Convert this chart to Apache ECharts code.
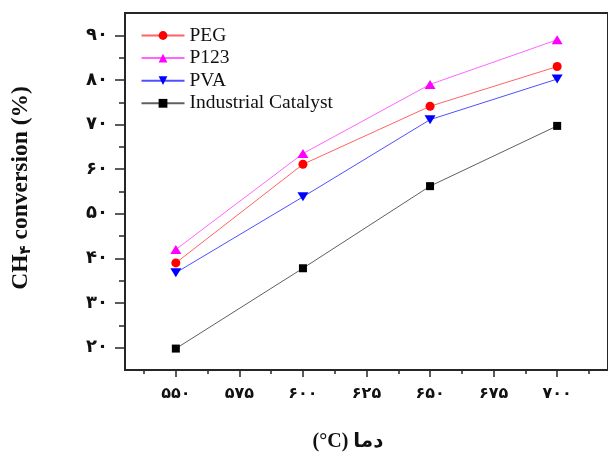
<!DOCTYPE html>
<html>
<head>
<meta charset="utf-8">
<script src="https://cdn.jsdelivr.net/npm/echarts@6/dist/echarts.min.js"></script>
<style>
  html, body { margin: 0; padding: 0; background: #fff; }
  #chart { width: 608px; height: 452px; }
</style>
</head>
<body>
<div id="chart"></div>
<script>
// Reaction temperatures (°C)
const temperatures = [550, 600, 650, 700];

// CH4 conversion (%) for each catalyst
const pegValues = [39.0, 61.1, 74.1, 83.0];
const p123Values = [42.0, 63.5, 79.0, 89.0];
const pvaValues = [36.8, 53.8, 71.1, 80.2];
const industrialValues = [19.8, 37.8, 56.2, 69.7];

const seriesNames = ['PEG', 'P123', 'PVA', 'Industrial Catalyst'];

// Axis ticks and their labels in Persian digits
const xTickValues = [550, 575, 600, 625, 650, 675, 700];
const xTickLabels = ['۵۵۰', '۵۷۵', '۶۰۰', '۶۲۵', '۶۵۰', '۶۷۵', '۷۰۰'];
const xMinorTicks = [537.5, 562.5, 587.5, 612.5, 637.5, 662.5, 687.5, 712.5];
const yTickValues = [20, 30, 40, 50, 60, 70, 80, 90];
const yTickLabels = ['۲۰', '۳۰', '۴۰', '۵۰', '۶۰', '۷۰', '۸۰', '۹۰'];
const yMinorTicks = [25, 35, 45, 55, 65, 75, 85];

const xTitle = '(°C) دما';
const yTitleParts = ['CH', '۴', ' conversion (%)'];

const AXIS = '#262626';
const LABEL_FONT = 'Liberation Serif, DejaVu Sans, serif';

function pairs(values) {
  return temperatures.map((t, i) => [t, values[i]]);
}

function lineSeries(name, values, lineColor, markColor, symbol, size, rotate) {
  return {
    name: name,
    type: 'line',
    data: pairs(values),
    symbol: symbol,
    symbolSize: size,
    symbolRotate: rotate || 0,
    showAllSymbol: true,
    lineStyle: { color: lineColor, width: 1 },
    itemStyle: { color: markColor },
    emphasis: { disabled: true },
    animation: false,
    z: 3
  };
}

const chart = echarts.init(document.getElementById('chart'), null, { renderer: 'canvas' });

const xLabelMap = {};
xTickValues.forEach((v, i) => { xLabelMap[v] = xTickLabels[i]; });
const yLabelMap = {};
yTickValues.forEach((v, i) => { yLabelMap[v] = yTickLabels[i]; });

chart.setOption({
  animation: false,
  backgroundColor: '#ffffff',
  grid: {
    left: 125, top: 13, bottom: 82, right: -3.4,
    show: true, borderColor: AXIS, borderWidth: 2, backgroundColor: 'transparent'
  },
  legend: {
    orient: 'vertical',
    left: 135.5, top: 20.5,
    itemWidth: 43, itemHeight: 11, itemGap: 2.6,
    data: seriesNames,
    textStyle: { fontFamily: LABEL_FONT, fontSize: 19.5, color: '#111', lineHeight: 16 },
    selectedMode: false
  },
  xAxis: [
    {
      type: 'value', min: 530, max: 720,
      axisLine: { show: true, lineStyle: { color: AXIS, width: 2 } },
      axisTick: { show: true, customValues: xTickValues, length: 7, lineStyle: { color: AXIS, width: 1.5 } },
      axisLabel: {
        customValues: xTickValues,
        formatter: v => xLabelMap[v] || '',
        margin: 16, fontSize: 16, fontWeight: 'bold', color: '#111', fontFamily: LABEL_FONT
      },
      splitLine: { show: false }
    },
    {
      type: 'value', min: 530, max: 720, position: 'bottom',
      axisLine: { show: false },
      axisTick: { show: true, customValues: xMinorTicks, length: 4, lineStyle: { color: AXIS, width: 1.5 } },
      axisLabel: { show: false },
      splitLine: { show: false }
    }
  ],
  yAxis: [
    {
      type: 'value', min: 15, max: 95,
      axisLine: { show: true, lineStyle: { color: AXIS, width: 2 } },
      axisTick: { show: true, customValues: yTickValues, length: 10, lineStyle: { color: AXIS, width: 1.5 } },
      axisLabel: {
        customValues: yTickValues,
        formatter: v => yLabelMap[v] || '',
        margin: 17, fontSize: 18, fontWeight: 'bold', color: '#111', fontFamily: LABEL_FONT
      },
      splitLine: { show: false }
    },
    {
      type: 'value', min: 15, max: 95, position: 'left',
      axisLine: { show: false },
      axisTick: { show: true, customValues: yMinorTicks, length: 6, lineStyle: { color: AXIS, width: 1.5 } },
      axisLabel: { show: false },
      splitLine: { show: false }
    }
  ],
  graphic: [
    {
      type: 'text',
      x: 21, y: 188,
      rotation: Math.PI / 2,
      style: {
        text: '{a|' + yTitleParts[0] + '}{s|' + yTitleParts[1] + '}{a|' + yTitleParts[2] + '}',
        align: 'center', verticalAlign: 'middle',
        rich: {
          a: { fontFamily: LABEL_FONT, fontSize: 23.5, fontWeight: 'bold', fill: '#111', lineHeight: 26, verticalAlign: 'middle' },
          s: { fontFamily: LABEL_FONT, fontSize: 15, fontWeight: 'bold', fill: '#111', lineHeight: 26, verticalAlign: 'bottom', padding: [9, 0, 0, 0] }
        }
      }
    },
    {
      type: 'text',
      x: 348, y: 442,
      style: {
        text: xTitle,
        align: 'center', verticalAlign: 'middle',
        font: 'bold 20px ' + LABEL_FONT,
        fill: '#111'
      }
    }
  ],
  series: [
    lineSeries(seriesNames[0], pegValues, '#ff6464', '#ff0000', 'circle', 9),
    lineSeries(seriesNames[1], p123Values, '#ff66ff', '#ff00ff', 'triangle', [11, 9]),
    lineSeries(seriesNames[2], pvaValues, '#5050ff', '#0000ff', 'triangle', [11, 9], 180),
    lineSeries(seriesNames[3], industrialValues, '#606060', '#000000', 'rect', 8)
  ]
});
</script>
</body>
</html>
